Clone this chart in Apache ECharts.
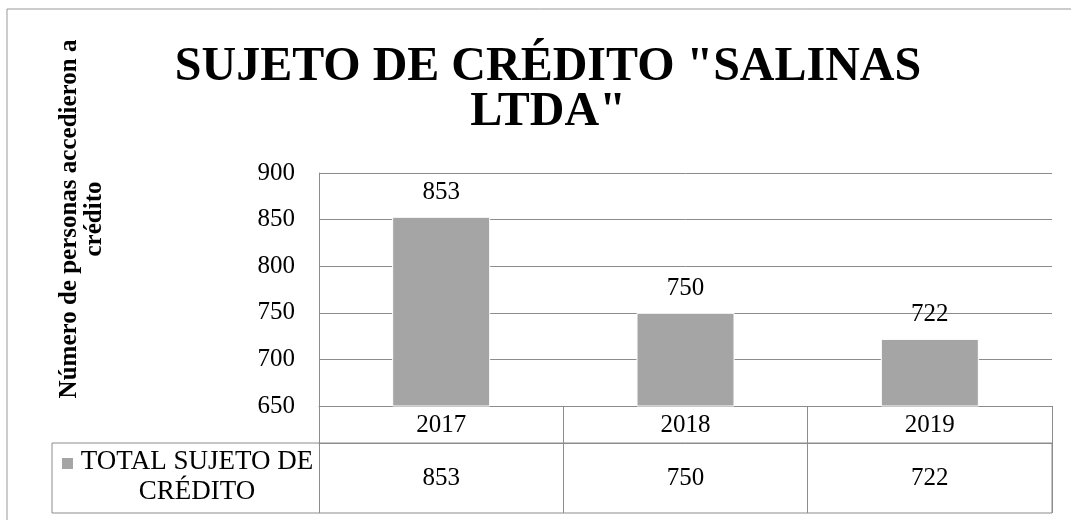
<!DOCTYPE html>
<html>
<head>
<meta charset="utf-8">
<script src="https://cdn.jsdelivr.net/npm/echarts@6/dist/echarts.min.js"></script>
<style>
  html, body { margin: 0; padding: 0; background: #fff; }
  #main { width: 1071px; height: 520px; }
</style>
</head>
<body>
<div id="main"></div>
<script>
var FONT = '"Liberation Serif", "Times New Roman", serif';

// datos
var years = ['2017', '2018', '2019'];
var totals = [853, 750, 722];
var seriesName = 'TOTAL SUJETO DE\nCRÉDITO';
var yTicks = { min: 650, max: 900, step: 50 };
var chartTitle = 'SUJETO DE CRÉDITO "SALINAS\nLTDA"';
var yTitle = 'Número de personas accedieron a\ncrédito';

var lineGray = '#8c8c8c';
var barGray = '#a5a5a5';

var chart = echarts.init(document.getElementById('main'));

chart.setOption({
  animation: false,
  backgroundColor: '#fff',
  title: {
    text: chartTitle,
    left: 543,
    top: 40,
    textAlign: 'center',
    textStyle: {
      fontFamily: FONT,
      fontSize: 48,
      fontWeight: 'bold',
      lineHeight: 45,
      color: '#000'
    }
  },
  grid: { left: 319, right: 19, top: 173, bottom: 114 },
  xAxis: [
    {
      type: 'category',
      data: years,
      axisLine: { show: true, lineStyle: { color: lineGray } },
      axisTick: { show: true, length: 37, lineStyle: { color: lineGray } },
      axisLabel: { fontFamily: FONT, fontSize: 25, color: '#000', margin: 7 }
    },
    {
      // fila de valores de la tabla de datos
      type: 'category',
      data: years,
      position: 'bottom',
      offset: 37,
      axisLine: { show: true, lineStyle: { color: lineGray } },
      axisTick: { show: true, length: 70, lineStyle: { color: lineGray } },
      axisLabel: {
        fontFamily: FONT, fontSize: 25, color: '#000', margin: 23,
        formatter: function (v, i) { return String(totals[i]); }
      }
    }
  ],
  yAxis: {
    type: 'value',
    min: yTicks.min,
    max: yTicks.max,
    interval: yTicks.step,
    axisLine: { show: true, lineStyle: { color: lineGray } },
    axisTick: { show: false },
    splitLine: { show: true, lineStyle: { color: lineGray, width: 1 } },
    axisLabel: { fontFamily: FONT, fontSize: 25, color: '#000', margin: 24 }
  },
  series: [
    {
      name: seriesName,
      type: 'bar',
      xAxisIndex: 0,
      data: totals,
      barWidth: 98,
      itemStyle: { color: barGray, borderColor: '#fff', borderWidth: 1 },
      label: {
        show: true,
        position: 'top',
        distance: 12,
        fontFamily: FONT,
        fontSize: 25,
        color: '#000'
      }
    }
  ],
  graphic: [
    {
      type: 'rect',
      shape: { x: 7, y: 9, width: 1200, height: 700 },
      style: { fill: 'none', stroke: '#999', lineWidth: 1 },
      silent: true
    },
    {
      type: 'rect',
      shape: { x: 52, y: 443, width: 1000, height: 70 },
      style: { fill: 'none', stroke: lineGray, lineWidth: 1 },
      silent: true
    },
    {
      type: 'rect',
      shape: { x: 62, y: 458, width: 11, height: 11 },
      style: { fill: barGray }
    },
    {
      type: 'text',
      x: 197,
      y: 477,
      style: {
        text: seriesName,
        fontFamily: FONT,
        fontSize: 27,
        lineHeight: 30,
        fill: '#000',
        align: 'center',
        verticalAlign: 'middle'
      }
    },
    {
      type: 'text',
      x: 82,
      y: 219,
      rotation: Math.PI / 2,
      style: {
        text: yTitle,
        fontFamily: FONT,
        fontSize: 25,
        fontWeight: 'bold',
        lineHeight: 25,
        fill: '#000',
        align: 'center',
        verticalAlign: 'middle'
      }
    }
  ]
});
</script>
</body>
</html>
